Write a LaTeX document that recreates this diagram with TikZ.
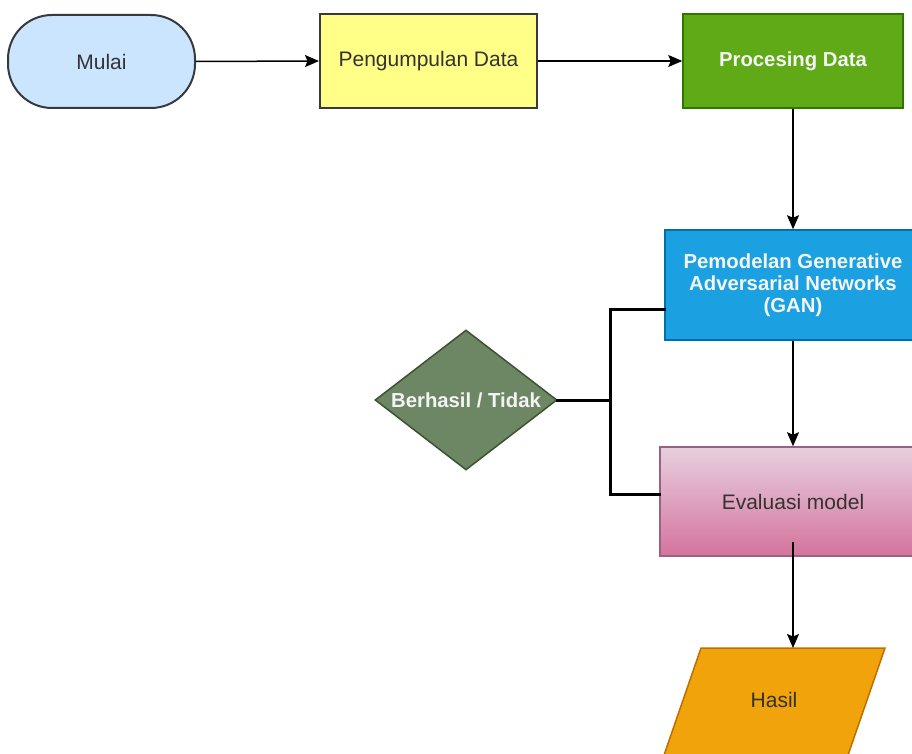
\documentclass[tikz,border=0pt]{standalone}
\usepackage{fontspec}
\setmainfont{Liberation Sans}
\usetikzlibrary{arrows.meta,shapes.geometric}
\definecolor{startfill}{HTML}{CCE5FF}
\definecolor{darkline}{HTML}{36393D}
\definecolor{yellowfill}{HTML}{FFFF88}
\definecolor{greenfill}{HTML}{60A917}
\definecolor{greenline}{HTML}{2D7600}
\definecolor{bluefill}{HTML}{1BA1E2}
\definecolor{blueline}{HTML}{006EAF}
\definecolor{olivefill}{HTML}{6D8764}
\definecolor{oliveline}{HTML}{3A5431}
\definecolor{pinktop}{HTML}{E6D0DE}
\definecolor{pinkbot}{HTML}{D5739D}
\definecolor{pinkline}{HTML}{996185}
\definecolor{orangefill}{HTML}{F0A30A}
\definecolor{orangeline}{HTML}{BD7000}
\definecolor{txtdark}{HTML}{333333}
\definecolor{txtwhite}{HTML}{F4F4F4}
\tikzset{
  basebox/.style={rectangle, inner sep=0pt, align=center,
    font=\fontsize{21}{22}\selectfont},
  whitetxt/.style={text=txtwhite, font=\fontsize{20.3}{22}\selectfont\bfseries},
  darktxt/.style={text=txtdark},
  arr/.style={line width=1.5pt, -{Stealth[length=14pt,width=12pt,inset=2.5pt]}},
  fb/.style={line width=3pt, line cap=rect},
}
\begin{document}
\begin{tikzpicture}[x=1pt,y=-1pt]
\useasboundingbox (0,0) rectangle (912,754);
\clip (0,0) rectangle (912,754);

\node[basebox, darktxt, draw=darkline, line width=2pt, fill=startfill,
  rounded corners=44pt, minimum width=187pt, minimum height=93pt]
  (start) at (101.5,61.5) {Mulai};
\node[basebox, darktxt, draw=darkline, line width=2pt, fill=yellowfill,
  minimum width=217pt, minimum height=94pt]
  (collect) at (428.5,61) {Pengumpulan Data};
\node[basebox, whitetxt, draw=greenline, line width=1.5pt, fill=greenfill,
  minimum width=220pt, minimum height=94pt]
  (proc) at (793,61) {Procesing Data};
\node[basebox, whitetxt, draw=blueline, line width=1.5pt, fill=bluefill,
  minimum width=256pt, minimum height=110pt]
  (gan) at (793,285) {Pemodelan Generative\\Adversarial Networks\\(GAN)};
\node[basebox, darktxt, draw=pinkline, line width=1.5pt,
  top color=pinktop, bottom color=pinkbot,
  minimum width=266pt, minimum height=109pt]
  (eval) at (793,501.5) {Evaluasi model};
\node[diamond, aspect=1.3, inner sep=0pt, whitetxt, draw=oliveline,
  line width=1.5pt, fill=olivefill, minimum width=182pt, minimum height=140pt]
  (dec) at (466,400) {Berhasil / Tidak};

% output parallelogram
\coordinate (hasiltop) at (793,648);
\draw[draw=orangeline, line width=1.5pt, fill=orangefill]
  (701,648) -- (885,648) -- (847,758) -- (663,758) -- cycle;
\node[basebox, darktxt] (hasil) at (774,700) {Hasil};

\draw[arr] (start.east) -- (collect.west);
\draw[arr] (collect.east) -- (proc.west);
\draw[arr] (proc.south) -- (gan.north);
\draw[arr] (gan.south) -- (eval.north);
\draw[arr] ([yshift=15pt]eval.south) -- (hasiltop);

\draw[fb] (dec.east) -- ++(53,0) coordinate (junc);
\draw[fb] ([yshift=-24pt]gan.west) -| (junc) |- ([yshift=7pt]eval.west);
\end{tikzpicture}
\end{document}
